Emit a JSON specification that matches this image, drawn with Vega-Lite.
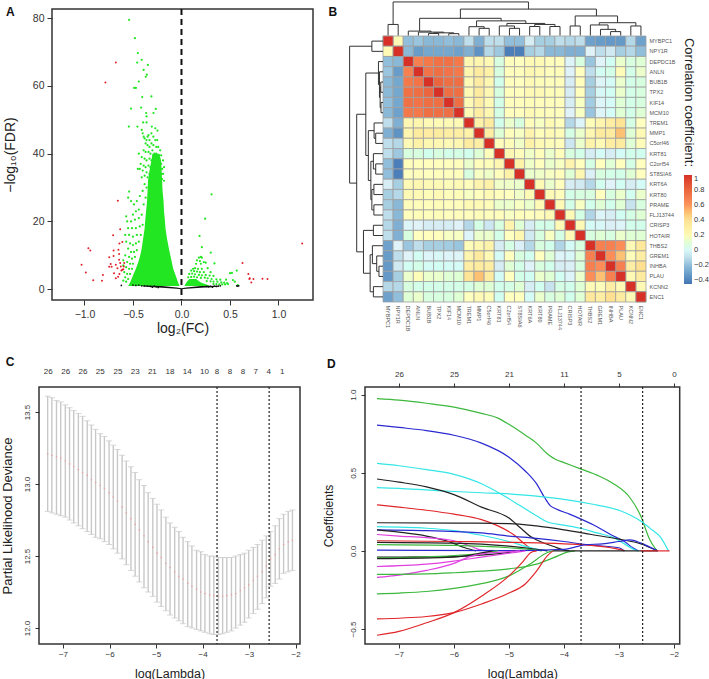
{"$schema":"https://vega.github.io/schema/vega-lite/v6.json","padding":{"left":0,"top":1,"right":0,"bottom":0},"background":"white",
"config":{"font":"Liberation Sans","view":{"stroke":null},"axis":{"labelFont":"Liberation Sans","titleFont":"Liberation Sans","labelColor":"#333","titleColor":"#222","tickColor":"#333","domain":false,"grid":false,"titleFontWeight":"normal"},"text":{"font":"Liberation Sans"}},
"datasets":{
"greenPts":[{"x":-0.54,"y":79.5},{"x":-0.48,"y":74.1},{"x":-0.45,"y":69.7},{"x":-0.457,"y":66.9},{"x":-0.41,"y":67.7},{"x":-0.347,"y":66.2},{"x":-0.39,"y":64.7},{"x":-0.357,"y":63.3},{"x":-0.368,"y":62.7},{"x":-0.44,"y":61.3},{"x":-0.47,"y":59.4},{"x":-0.488,"y":59.4},{"x":-0.405,"y":56.7},{"x":-0.31,"y":56.9},{"x":-0.52,"y":53.3},{"x":-0.416,"y":53.6},{"x":-0.265,"y":53.2},{"x":-0.364,"y":52},{"x":-0.289,"y":52},{"x":-0.36,"y":51},{"x":-0.543,"y":48},{"x":-0.454,"y":48},{"x":-0.306,"y":48},{"x":-0.395,"y":49.2},{"x":-0.36,"y":49.2},{"x":-0.41,"y":47},{"x":-0.27,"y":47.5},{"x":-0.247,"y":46.8},
{"x":-0.4,"y":46},{"x":-0.39,"y":45},{"x":-0.38,"y":44.5},{"x":-0.36,"y":44},{"x":-0.35,"y":45},{"x":-0.34,"y":45.5},{"x":-0.33,"y":44},{"x":-0.31,"y":46},{"x":-0.29,"y":45},{"x":-0.27,"y":44},{"x":-0.25,"y":44},{"x":-0.37,"y":43},{"x":-0.35,"y":42.5},{"x":-0.33,"y":42},{"x":-0.31,"y":43},{"x":-0.29,"y":42.5},{"x":-0.26,"y":42},{"x":-0.24,"y":42},{"x":-0.22,"y":41},{"x":-0.39,"y":41},{"x":-0.37,"y":40.5},{"x":-0.34,"y":40.5},{"x":-0.32,"y":40},{"x":-0.3,"y":41},{"x":-0.28,"y":40},{"x":-0.26,"y":40},{"x":-0.23,"y":39.5},{"x":-0.21,"y":39.5},{"x":-0.44,"y":40},{"x":-0.41,"y":39},{"x":-0.38,"y":38.5},{"x":-0.36,"y":38},{"x":-0.33,"y":38.5},{"x":-0.31,"y":38},{"x":-0.29,"y":38.5},{"x":-0.27,"y":38},{"x":-0.25,"y":38},{"x":-0.23,"y":37.5},{"x":-0.21,"y":37},{"x":-0.19,"y":38},{"x":-0.42,"y":37},{"x":-0.39,"y":36.5},{"x":-0.37,"y":36},{"x":-0.34,"y":36.5},{"x":-0.32,"y":36},{"x":-0.3,"y":36.5},{"x":-0.28,"y":36},{"x":-0.26,"y":36},{"x":-0.24,"y":36},{"x":-0.22,"y":35.5},{"x":-0.2,"y":35.5},{"x":-0.18,"y":36},{"x":-0.45,"y":35.5},{"x":-0.43,"y":35.5},{"x":-0.4,"y":35},{"x":-0.36,"y":34.5},{"x":-0.33,"y":34},{"x":-0.31,"y":34.5},{"x":-0.25,"y":34.5},{"x":-0.23,"y":34},{"x":-0.21,"y":34},{"x":-0.19,"y":34},{"x":-0.38,"y":33.5},{"x":-0.35,"y":33},{"x":-0.41,"y":33},{"x":-0.2,"y":32.5},{"x":-0.21,"y":31.5},{"x":-0.18,"y":32},
{"x":-0.54,"y":28.8},{"x":-0.55,"y":27},{"x":-0.52,"y":26},{"x":-0.49,"y":25},{"x":-0.46,"y":26},{"x":-0.43,"y":27.5},{"x":-0.4,"y":29},{"x":-0.38,"y":31},{"x":-0.36,"y":30},{"x":-0.44,"y":23.5},{"x":-0.47,"y":23},{"x":-0.5,"y":22},{"x":-0.57,"y":21.5},{"x":-0.56,"y":20},{"x":-0.52,"y":20},{"x":-0.48,"y":20.5},{"x":-0.44,"y":21},{"x":-0.41,"y":22},{"x":-0.39,"y":25},{"x":-0.37,"y":27},{"x":-0.55,"y":18},{"x":-0.51,"y":18},{"x":-0.47,"y":18},{"x":-0.43,"y":18.5},{"x":-0.4,"y":19},{"x":-0.58,"y":16},{"x":-0.54,"y":16},{"x":-0.5,"y":15.5},{"x":-0.46,"y":16},{"x":-0.42,"y":16},{"x":-0.57,"y":14},{"x":-0.53,"y":13.5},{"x":-0.5,"y":13},{"x":-0.47,"y":13.5},{"x":-0.44,"y":14},{"x":-0.55,"y":12},{"x":-0.52,"y":11},{"x":-0.49,"y":11},{"x":-0.46,"y":11.5},{"x":-0.58,"y":10},{"x":-0.54,"y":9.5},{"x":-0.51,"y":9},{"x":-0.48,"y":9.5},{"x":-0.6,"y":8.5},{"x":-0.56,"y":8},{"x":-0.53,"y":7.5},{"x":-0.5,"y":7.5},{"x":-0.6,"y":7},{"x":-0.57,"y":6.5},{"x":-0.54,"y":6},{"x":-0.51,"y":6},{"x":-0.59,"y":5},{"x":-0.56,"y":4.5},{"x":-0.53,"y":4.5},{"x":-0.58,"y":3.5},{"x":-0.55,"y":3},{"x":-0.57,"y":2.2},{"x":-0.6,"y":2.5},
{"x":0.31,"y":28},{"x":0.244,"y":20.8},{"x":0.186,"y":15.7},{"x":0.21,"y":12.4},{"x":0.302,"y":10.8},{"x":0.18,"y":9.3},{"x":0.2,"y":9.5},{"x":0.21,"y":9.3},{"x":0.16,"y":8.5},{"x":0.19,"y":8.3},{"x":0.23,"y":8},{"x":0.15,"y":7.5},{"x":0.2,"y":7.5},{"x":0.25,"y":7.8},{"x":0.34,"y":7.6},{"x":0.12,"y":6},{"x":0.14,"y":6.2},{"x":0.17,"y":6},{"x":0.21,"y":6},{"x":0.27,"y":6.2},{"x":0.1,"y":5.5},{"x":0.13,"y":5.3},{"x":0.16,"y":5.2},{"x":0.19,"y":5},{"x":0.23,"y":5},{"x":0.3,"y":5},{"x":0.57,"y":5.5},{"x":0.52,"y":4.8},{"x":0.5,"y":4.7},{"x":0.08,"y":4.5},{"x":0.11,"y":4.6},{"x":0.14,"y":4.4},{"x":0.18,"y":4.2},{"x":0.21,"y":4.1},{"x":0.25,"y":4.2},{"x":0.29,"y":4},{"x":0.33,"y":3.9},{"x":0.07,"y":3.5},{"x":0.1,"y":3.6},{"x":0.13,"y":3.7},{"x":0.16,"y":3.5},{"x":0.2,"y":3.3},{"x":0.24,"y":3.4},{"x":0.27,"y":3.2},{"x":0.31,"y":3},{"x":0.36,"y":2.9},{"x":0.4,"y":2.8},{"x":0.46,"y":2.8},{"x":0.53,"y":2.7},{"x":0.55,"y":2.2},{"x":0.26,"y":2.4},{"x":0.3,"y":2.3},{"x":0.33,"y":2.2},{"x":0.37,"y":2.2},{"x":0.41,"y":2},{"x":0.44,"y":1.9},{"x":0.47,"y":1.8},{"x":0.33,"y":1.5},{"x":0.36,"y":1.5},{"x":0.39,"y":1.4},{"x":0.42,"y":1.4},{"x":0.45,"y":1.4},{"x":0.48,"y":1.5},{"x":0.58,"y":1.2}],
"redPts":[{"x":-0.677,"y":66.9},{"x":-0.784,"y":61},{"x":-0.656,"y":26.1},{"x":-0.632,"y":17.7},{"x":-0.705,"y":15.9},{"x":-0.61,"y":13.9},{"x":-0.64,"y":13.5},{"x":-0.96,"y":12.1},{"x":-0.94,"y":11.4},{"x":-0.7,"y":11.4},{"x":-0.65,"y":11.6},{"x":-0.643,"y":10.4},{"x":-1.03,"y":7.2},{"x":-0.986,"y":4.9},{"x":-0.91,"y":2.6},{"x":-0.82,"y":2.5},{"x":-0.81,"y":4.2},{"x":-0.745,"y":9.4},{"x":-0.7,"y":9.8},{"x":-0.745,"y":6.6},{"x":-0.72,"y":6.6},{"x":-0.73,"y":7.4},{"x":-0.695,"y":4.7},{"x":-0.677,"y":7.2},{"x":-0.66,"y":6.2},{"x":-0.643,"y":8.7},{"x":-0.632,"y":7.7},{"x":-0.625,"y":6.7},{"x":-0.62,"y":5.5},{"x":-0.61,"y":5.7},{"x":-0.6,"y":5.9},{"x":-0.595,"y":6.7},{"x":-0.653,"y":3.7},{"x":-0.64,"y":4.5},{"x":-0.677,"y":3.2},{"x":-0.59,"y":7.7},{"x":1.244,"y":13.5},{"x":0.629,"y":7.7},{"x":0.69,"y":4.5},{"x":0.704,"y":3.2},{"x":0.72,"y":2},{"x":0.742,"y":3},{"x":0.7,"y":3},{"x":0.835,"y":3.1},{"x":0.887,"y":3}],
"blackPts":[{"x":-0.62,"y":1.1},{"x":-0.5,"y":1.2},{"x":-0.47,"y":1.1},{"x":-0.44,"y":1.2},{"x":-0.41,"y":1},{"x":-0.38,"y":1},{"x":-0.35,"y":0.9},{"x":-0.32,"y":0.8},{"x":-0.3,"y":0.6},{"x":-0.28,"y":0.9},{"x":-0.26,"y":0.7},{"x":-0.24,"y":0.5},{"x":0.26,"y":0.8},{"x":0.28,"y":0.7},{"x":0.3,"y":0.8},{"x":0.32,"y":0.6},{"x":0.34,"y":0.9},{"x":0.36,"y":0.8},{"x":0.38,"y":0.9},{"x":0.4,"y":1},{"x":0.59,"y":1},{"x":0.58,"y":0.9},{"x":0.57,"y":1}],
"segs":[{"a":0.5,"b":1.5,"h":-1.1,"k":-1.1},{"a":0.5,"b":0.5,"h":0,"k":-1.1},{"a":1.5,"b":1.5,"h":0,"k":-1.1},
{"a":6.5,"b":7.5,"h":-0.2,"k":-0.2},{"a":6.5,"b":6.5,"h":0,"k":-0.2},{"a":7.5,"b":7.5,"h":0,"k":-0.2},
{"a":4.5,"b":5.5,"h":-0.22,"k":-0.22},{"a":4.5,"b":4.5,"h":0,"k":-0.22},{"a":5.5,"b":5.5,"h":0,"k":-0.22},
{"a":5,"b":7,"h":-0.28,"k":-0.28},{"a":5,"b":5,"h":-0.22,"k":-0.28},{"a":7,"b":7,"h":-0.2,"k":-0.28},
{"a":3.5,"b":6,"h":-0.35,"k":-0.35},{"a":3.5,"b":3.5,"h":0,"k":-0.35},{"a":6,"b":6,"h":-0.28,"k":-0.35},
{"a":2.5,"b":4.75,"h":-0.45,"k":-0.45},{"a":2.5,"b":2.5,"h":0,"k":-0.45},{"a":4.75,"b":4.75,"h":-0.35,"k":-0.45},
{"a":9.5,"b":10.5,"h":-0.72,"k":-0.72},{"a":9.5,"b":9.5,"h":0,"k":-0.72},{"a":10.5,"b":10.5,"h":0,"k":-0.72},
{"a":8.5,"b":10,"h":-0.88,"k":-0.88},{"a":8.5,"b":8.5,"h":0,"k":-0.88},{"a":10,"b":10,"h":-0.72,"k":-0.88},
{"a":12.5,"b":13.5,"h":-0.72,"k":-0.72},{"a":12.5,"b":12.5,"h":0,"k":-0.72},{"a":13.5,"b":13.5,"h":0,"k":-0.72},
{"a":11.5,"b":13,"h":-0.95,"k":-0.95},{"a":11.5,"b":11.5,"h":0,"k":-0.95},{"a":13,"b":13,"h":-0.72,"k":-0.95},
{"a":14.5,"b":15.5,"h":-0.9,"k":-0.9},{"a":14.5,"b":14.5,"h":0,"k":-0.9},{"a":15.5,"b":15.5,"h":0,"k":-0.9},
{"a":16.5,"b":17.5,"h":-0.9,"k":-0.9},{"a":16.5,"b":16.5,"h":0,"k":-0.9},{"a":17.5,"b":17.5,"h":0,"k":-0.9},
{"a":15,"b":17,"h":-1.1,"k":-1.1},{"a":15,"b":15,"h":-0.9,"k":-1.1},{"a":17,"b":17,"h":-0.9,"k":-1.1},
{"a":12.25,"b":16,"h":-1.2,"k":-1.2},{"a":12.25,"b":12.25,"h":-0.95,"k":-1.2},{"a":16,"b":16,"h":-1.1,"k":-1.2},
{"a":9.25,"b":14.12,"h":-1.45,"k":-1.45},{"a":9.25,"b":9.25,"h":-0.88,"k":-1.45},{"a":14.12,"b":14.12,"h":-1.2,"k":-1.45},
{"a":3.62,"b":11.68,"h":-1.7,"k":-1.7},{"a":3.62,"b":3.62,"h":-0.45,"k":-1.7},{"a":11.68,"b":11.68,"h":-1.45,"k":-1.7},
{"a":18.5,"b":19.5,"h":-0.95,"k":-0.95},{"a":18.5,"b":18.5,"h":0,"k":-0.95},{"a":19.5,"b":19.5,"h":0,"k":-0.95},
{"a":22.5,"b":23.5,"h":-0.4,"k":-0.4},{"a":22.5,"b":22.5,"h":0,"k":-0.4},{"a":23.5,"b":23.5,"h":0,"k":-0.4},
{"a":21.5,"b":23,"h":-0.62,"k":-0.62},{"a":21.5,"b":21.5,"h":0,"k":-0.62},{"a":23,"b":23,"h":-0.4,"k":-0.62},
{"a":20.5,"b":22.25,"h":-1.05,"k":-1.05},{"a":20.5,"b":20.5,"h":0,"k":-1.05},{"a":22.25,"b":22.25,"h":-0.62,"k":-1.05},
{"a":24.5,"b":25.5,"h":-0.95,"k":-0.95},{"a":24.5,"b":24.5,"h":0,"k":-0.95},{"a":25.5,"b":25.5,"h":0,"k":-0.95},
{"a":21.38,"b":25,"h":-1.27,"k":-1.27},{"a":21.38,"b":21.38,"h":-1.05,"k":-1.27},{"a":25,"b":25,"h":-0.95,"k":-1.27},
{"a":19,"b":23.19,"h":-1.93,"k":-1.93},{"a":19,"b":19,"h":-0.95,"k":-1.93},{"a":23.19,"b":23.19,"h":-1.27,"k":-1.93},
{"a":7.65,"b":21.1,"h":-2.6,"k":-2.6},{"a":7.65,"b":7.65,"h":-1.7,"k":-2.6},{"a":21.1,"b":21.1,"h":-1.93,"k":-2.6},
{"a":1,"b":14.38,"h":-3.3,"k":-3.3},{"a":1,"b":1,"h":-1.1,"k":-3.3},{"a":14.38,"b":14.38,"h":-2.6,"k":-3.3}],
"cells":[{"r":0,"c":0,"v":1},{"r":0,"c":1,"v":0.2},{"r":0,"c":2,"v":-0.2},{"r":0,"c":3,"v":-0.18},{"r":0,"c":4,"v":-0.22},{"r":0,"c":5,"v":-0.22},{"r":0,"c":6,"v":-0.2},{"r":0,"c":7,"v":-0.22},{"r":0,"c":8,"v":-0.1},{"r":0,"c":9,"v":-0.25},{"r":0,"c":10,"v":-0.1},{"r":0,"c":11,"v":-0.1},{"r":0,"c":12,"v":-0.2},{"r":0,"c":13,"v":-0.2},{"r":0,"c":14,"v":-0.05},{"r":0,"c":15,"v":-0.15},{"r":0,"c":16,"v":-0.15},{"r":0,"c":17,"v":-0.1},{"r":0,"c":18,"v":-0.12},{"r":0,"c":19,"v":-0.1},{"r":0,"c":20,"v":-0.3},{"r":0,"c":21,"v":-0.32},{"r":0,"c":22,"v":-0.33},{"r":0,"c":23,"v":-0.33},{"r":0,"c":24,"v":-0.12},{"r":0,"c":25,"v":-0.3},
{"r":1,"c":1,"v":1},{"r":1,"c":2,"v":-0.22},{"r":1,"c":3,"v":-0.32},{"r":1,"c":4,"v":-0.28},{"r":1,"c":5,"v":-0.28},{"r":1,"c":6,"v":-0.28},{"r":1,"c":7,"v":-0.3},{"r":1,"c":8,"v":-0.25},{"r":1,"c":9,"v":-0.35},{"r":1,"c":10,"v":-0.12},{"r":1,"c":11,"v":-0.17},{"r":1,"c":12,"v":-0.42},{"r":1,"c":13,"v":-0.42},{"r":1,"c":14,"v":-0.15},{"r":1,"c":15,"v":-0.12},{"r":1,"c":16,"v":-0.22},{"r":1,"c":17,"v":-0.22},{"r":1,"c":18,"v":-0.25},{"r":1,"c":19,"v":-0.25},{"r":1,"c":20,"v":-0.03},{"r":1,"c":21,"v":-0.1},{"r":1,"c":22,"v":-0.06},{"r":1,"c":23,"v":-0.15},{"r":1,"c":24,"v":-0.12},{"r":1,"c":25,"v":-0.2},
{"r":2,"c":2,"v":1},{"r":2,"c":3,"v":0.68},{"r":2,"c":4,"v":0.72},{"r":2,"c":5,"v":0.75},{"r":2,"c":6,"v":0.75},{"r":2,"c":7,"v":0.72},{"r":2,"c":8,"v":0.22},{"r":2,"c":9,"v":0.24},{"r":2,"c":10,"v":0.2},{"r":2,"c":11,"v":0.08},{"r":2,"c":12,"v":0.17},{"r":2,"c":13,"v":0.15},{"r":2,"c":14,"v":0.2},{"r":2,"c":15,"v":0.2},{"r":2,"c":16,"v":0.17},{"r":2,"c":17,"v":0.16},{"r":2,"c":18,"v":-0.02},{"r":2,"c":19,"v":0.08},{"r":2,"c":20,"v":-0.18},{"r":2,"c":21,"v":-0.03},{"r":2,"c":22,"v":0.03},{"r":2,"c":23,"v":0.12},{"r":2,"c":24,"v":0.08},{"r":2,"c":25,"v":0.1},
{"r":3,"c":3,"v":1},{"r":3,"c":4,"v":0.74},{"r":3,"c":5,"v":0.76},{"r":3,"c":6,"v":0.74},{"r":3,"c":7,"v":0.72},{"r":3,"c":8,"v":0.24},{"r":3,"c":9,"v":0.33},{"r":3,"c":10,"v":0.28},{"r":3,"c":11,"v":0.08},{"r":3,"c":12,"v":0.16},{"r":3,"c":13,"v":0.17},{"r":3,"c":14,"v":0.22},{"r":3,"c":15,"v":0.2},{"r":3,"c":16,"v":0.17},{"r":3,"c":17,"v":0.18},{"r":3,"c":18,"v":-0.03},{"r":3,"c":19,"v":0.15},{"r":3,"c":20,"v":-0.1},{"r":3,"c":21,"v":0.03},{"r":3,"c":22,"v":0.06},{"r":3,"c":23,"v":0.18},{"r":3,"c":24,"v":0.06},{"r":3,"c":25,"v":0.12},
{"r":4,"c":4,"v":1},{"r":4,"c":5,"v":0.8},{"r":4,"c":6,"v":0.76},{"r":4,"c":7,"v":0.76},{"r":4,"c":8,"v":0.2},{"r":4,"c":9,"v":0.32},{"r":4,"c":10,"v":0.22},{"r":4,"c":11,"v":0.05},{"r":4,"c":12,"v":0.16},{"r":4,"c":13,"v":0.15},{"r":4,"c":14,"v":0.2},{"r":4,"c":15,"v":0.18},{"r":4,"c":16,"v":0.17},{"r":4,"c":17,"v":0.17},{"r":4,"c":18,"v":-0.05},{"r":4,"c":19,"v":0.16},{"r":4,"c":20,"v":-0.15},{"r":4,"c":21,"v":-0.02},{"r":4,"c":22,"v":0.02},{"r":4,"c":23,"v":0.12},{"r":4,"c":24,"v":0.06},{"r":4,"c":25,"v":0.08},
{"r":5,"c":5,"v":1},{"r":5,"c":6,"v":0.76},{"r":5,"c":7,"v":0.76},{"r":5,"c":8,"v":0.2},{"r":5,"c":9,"v":0.33},{"r":5,"c":10,"v":0.22},{"r":5,"c":11,"v":0.08},{"r":5,"c":12,"v":0.16},{"r":5,"c":13,"v":0.16},{"r":5,"c":14,"v":0.2},{"r":5,"c":15,"v":0.2},{"r":5,"c":16,"v":0.18},{"r":5,"c":17,"v":0.18},{"r":5,"c":18,"v":-0.05},{"r":5,"c":19,"v":0.16},{"r":5,"c":20,"v":-0.15},{"r":5,"c":21,"v":0},{"r":5,"c":22,"v":0.03},{"r":5,"c":23,"v":0.12},{"r":5,"c":24,"v":0.06},{"r":5,"c":25,"v":0.08},
{"r":6,"c":6,"v":1},{"r":6,"c":7,"v":0.76},{"r":6,"c":8,"v":0.2},{"r":6,"c":9,"v":0.3},{"r":6,"c":10,"v":0.2},{"r":6,"c":11,"v":0.06},{"r":6,"c":12,"v":0.16},{"r":6,"c":13,"v":0.16},{"r":6,"c":14,"v":0.18},{"r":6,"c":15,"v":0.17},{"r":6,"c":16,"v":0.17},{"r":6,"c":17,"v":0.16},{"r":6,"c":18,"v":-0.05},{"r":6,"c":19,"v":0.14},{"r":6,"c":20,"v":-0.16},{"r":6,"c":21,"v":-0.02},{"r":6,"c":22,"v":0.02},{"r":6,"c":23,"v":0.1},{"r":6,"c":24,"v":0.06},{"r":6,"c":25,"v":0.08},
{"r":7,"c":7,"v":1},{"r":7,"c":8,"v":0.2},{"r":7,"c":9,"v":0.3},{"r":7,"c":10,"v":0.22},{"r":7,"c":11,"v":0.07},{"r":7,"c":12,"v":0.16},{"r":7,"c":13,"v":0.16},{"r":7,"c":14,"v":0.2},{"r":7,"c":15,"v":0.18},{"r":7,"c":16,"v":0.17},{"r":7,"c":17,"v":0.17},{"r":7,"c":18,"v":-0.03},{"r":7,"c":19,"v":0.14},{"r":7,"c":20,"v":-0.18},{"r":7,"c":21,"v":-0.02},{"r":7,"c":22,"v":0.02},{"r":7,"c":23,"v":0.1},{"r":7,"c":24,"v":0.06},{"r":7,"c":25,"v":0.1},
{"r":8,"c":8,"v":1},{"r":8,"c":9,"v":0.27},{"r":8,"c":10,"v":0.33},{"r":8,"c":11,"v":0.05},{"r":8,"c":12,"v":0.12},{"r":8,"c":13,"v":0.08},{"r":8,"c":14,"v":0.17},{"r":8,"c":15,"v":0.14},{"r":8,"c":16,"v":0.2},{"r":8,"c":17,"v":0.16},{"r":8,"c":18,"v":-0.12},{"r":8,"c":19,"v":-0.02},{"r":8,"c":20,"v":0.18},{"r":8,"c":21,"v":0.24},{"r":8,"c":22,"v":0.3},{"r":8,"c":23,"v":0.38},{"r":8,"c":24,"v":0.07},{"r":8,"c":25,"v":0.15},
{"r":9,"c":9,"v":1},{"r":9,"c":10,"v":0.3},{"r":9,"c":11,"v":0.1},{"r":9,"c":12,"v":0.17},{"r":9,"c":13,"v":0.14},{"r":9,"c":14,"v":0.25},{"r":9,"c":15,"v":0.16},{"r":9,"c":16,"v":0.2},{"r":9,"c":17,"v":0.18},{"r":9,"c":18,"v":0.07},{"r":9,"c":19,"v":0.12},{"r":9,"c":20,"v":0.22},{"r":9,"c":21,"v":0.33},{"r":9,"c":22,"v":0.33},{"r":9,"c":23,"v":0.5},{"r":9,"c":24,"v":0.1},{"r":9,"c":25,"v":0.2},
{"r":10,"c":10,"v":1},{"r":10,"c":11,"v":0.17},{"r":10,"c":12,"v":0.18},{"r":10,"c":13,"v":0.13},{"r":10,"c":14,"v":0.27},{"r":10,"c":15,"v":0.2},{"r":10,"c":16,"v":0.18},{"r":10,"c":17,"v":0.16},{"r":10,"c":18,"v":-0.07},{"r":10,"c":19,"v":0.12},{"r":10,"c":20,"v":0.26},{"r":10,"c":21,"v":0.2},{"r":10,"c":22,"v":0.3},{"r":10,"c":23,"v":0.33},{"r":10,"c":24,"v":0.1},{"r":10,"c":25,"v":0.18},
{"r":11,"c":11,"v":1},{"r":11,"c":12,"v":0.22},{"r":11,"c":13,"v":0.17},{"r":11,"c":14,"v":0.13},{"r":11,"c":15,"v":0.17},{"r":11,"c":16,"v":0.12},{"r":11,"c":17,"v":0.16},{"r":11,"c":18,"v":0.08},{"r":11,"c":19,"v":0.06},{"r":11,"c":20,"v":-0.05},{"r":11,"c":21,"v":0.02},{"r":11,"c":22,"v":-0.05},{"r":11,"c":23,"v":0.02},{"r":11,"c":24,"v":0.05},{"r":11,"c":25,"v":0.04},
{"r":12,"c":12,"v":1},{"r":12,"c":13,"v":0.27},{"r":12,"c":14,"v":0.13},{"r":12,"c":15,"v":0.15},{"r":12,"c":16,"v":0.12},{"r":12,"c":17,"v":0.14},{"r":12,"c":18,"v":0.25},{"r":12,"c":19,"v":0.15},{"r":12,"c":20,"v":0.07},{"r":12,"c":21,"v":0.15},{"r":12,"c":22,"v":0.1},{"r":12,"c":23,"v":0.15},{"r":12,"c":24,"v":0.07},{"r":12,"c":25,"v":0.15},
{"r":13,"c":13,"v":1},{"r":13,"c":14,"v":0.12},{"r":13,"c":15,"v":0.13},{"r":13,"c":16,"v":0.14},{"r":13,"c":17,"v":0.16},{"r":13,"c":18,"v":0.1},{"r":13,"c":19,"v":0.22},{"r":13,"c":20,"v":-0.04},{"r":13,"c":21,"v":0.08},{"r":13,"c":22,"v":0.06},{"r":13,"c":23,"v":0.06},{"r":13,"c":24,"v":0.1},{"r":13,"c":25,"v":0.15},
{"r":14,"c":14,"v":1},{"r":14,"c":15,"v":0.2},{"r":14,"c":16,"v":0.12},{"r":14,"c":17,"v":0.15},{"r":14,"c":18,"v":-0.05},{"r":14,"c":19,"v":-0.06},{"r":14,"c":20,"v":-0.12},{"r":14,"c":21,"v":0.04},{"r":14,"c":22,"v":-0.03},{"r":14,"c":23,"v":0.03},{"r":14,"c":24,"v":-0.05},{"r":14,"c":25,"v":0.02},
{"r":15,"c":15,"v":1},{"r":15,"c":16,"v":0.2},{"r":15,"c":17,"v":0.17},{"r":15,"c":18,"v":0.06},{"r":15,"c":19,"v":0.08},{"r":15,"c":20,"v":0.08},{"r":15,"c":21,"v":0.15},{"r":15,"c":22,"v":0.08},{"r":15,"c":23,"v":0.12},{"r":15,"c":24,"v":0.04},{"r":15,"c":25,"v":0.12},
{"r":16,"c":16,"v":1},{"r":16,"c":17,"v":0.2},{"r":16,"c":18,"v":0.06},{"r":16,"c":19,"v":0.14},{"r":16,"c":20,"v":0.05},{"r":16,"c":21,"v":0.1},{"r":16,"c":22,"v":0.05},{"r":16,"c":23,"v":0.1},{"r":16,"c":24,"v":-0.08},{"r":16,"c":25,"v":0.08},
{"r":17,"c":17,"v":1},{"r":17,"c":18,"v":0.2},{"r":17,"c":19,"v":0.07},{"r":17,"c":20,"v":-0.13},{"r":17,"c":21,"v":-0.02},{"r":17,"c":22,"v":-0.05},{"r":17,"c":23,"v":0.03},{"r":17,"c":24,"v":0.07},{"r":17,"c":25,"v":0.1},
{"r":18,"c":18,"v":1},{"r":18,"c":19,"v":0.2},{"r":18,"c":20,"v":0.02},{"r":18,"c":21,"v":0},{"r":18,"c":22,"v":-0.04},{"r":18,"c":23,"v":-0.02},{"r":18,"c":24,"v":0.05},{"r":18,"c":25,"v":0.05},
{"r":19,"c":19,"v":1},{"r":19,"c":20,"v":0.08},{"r":19,"c":21,"v":0.1},{"r":19,"c":22,"v":0.08},{"r":19,"c":23,"v":0.12},{"r":19,"c":24,"v":0.1},{"r":19,"c":25,"v":0.1},
{"r":20,"c":20,"v":1},{"r":20,"c":21,"v":0.68},{"r":20,"c":22,"v":0.68},{"r":20,"c":23,"v":0.62},{"r":20,"c":24,"v":0.2},{"r":20,"c":25,"v":0.35},
{"r":21,"c":21,"v":1},{"r":21,"c":22,"v":0.62},{"r":21,"c":23,"v":0.5},{"r":21,"c":24,"v":0.18},{"r":21,"c":25,"v":0.3},
{"r":22,"c":22,"v":1},{"r":22,"c":23,"v":0.68},{"r":22,"c":24,"v":0.3},{"r":22,"c":25,"v":0.42},
{"r":23,"c":23,"v":1},{"r":23,"c":24,"v":0.2},{"r":23,"c":25,"v":0.33},
{"r":24,"c":24,"v":1},{"r":24,"c":25,"v":0.2},
{"r":25,"c":25,"v":1}],
"cv":[{"x":-7.33,"u":13.61,"l":12.81,"m":13.21},{"x":-7.24,"u":13.6,"l":12.8,"m":13.2},{"x":-7.14,"u":13.58,"l":12.79,"m":13.19},{"x":-7.05,"u":13.57,"l":12.78,"m":13.18},{"x":-6.95,"u":13.55,"l":12.77,"m":13.16},{"x":-6.86,"u":13.53,"l":12.75,"m":13.14},{"x":-6.77,"u":13.51,"l":12.73,"m":13.12},{"x":-6.67,"u":13.49,"l":12.71,"m":13.1},{"x":-6.58,"u":13.47,"l":12.69,"m":13.08},{"x":-6.48,"u":13.44,"l":12.67,"m":13.06},{"x":-6.39,"u":13.41,"l":12.65,"m":13.03},{"x":-6.3,"u":13.38,"l":12.63,"m":13.01},{"x":-6.2,"u":13.35,"l":12.62,"m":12.99},{"x":-6.11,"u":13.33,"l":12.6,"m":12.97},{"x":-6.01,"u":13.3,"l":12.58,"m":12.94},{"x":-5.92,"u":13.27,"l":12.55,"m":12.91},{"x":-5.83,"u":13.24,"l":12.52,"m":12.88},{"x":-5.73,"u":13.2,"l":12.48,"m":12.84},{"x":-5.64,"u":13.16,"l":12.44,"m":12.8},{"x":-5.54,"u":13.12,"l":12.4,"m":12.76},{"x":-5.45,"u":13.08,"l":12.36,"m":12.72},{"x":-5.36,"u":13.03,"l":12.32,"m":12.68},{"x":-5.26,"u":12.99,"l":12.28,"m":12.64},{"x":-5.17,"u":12.94,"l":12.25,"m":12.6},{"x":-5.07,"u":12.9,"l":12.22,"m":12.56},{"x":-4.98,"u":12.86,"l":12.18,"m":12.52},{"x":-4.89,"u":12.82,"l":12.15,"m":12.49},{"x":-4.79,"u":12.77,"l":12.12,"m":12.45},{"x":-4.7,"u":12.73,"l":12.09,"m":12.42},{"x":-4.6,"u":12.7,"l":12.07,"m":12.39},{"x":-4.51,"u":12.67,"l":12.05,"m":12.36},{"x":-4.42,"u":12.63,"l":12.03,"m":12.34},{"x":-4.32,"u":12.6,"l":12.01,"m":12.31},{"x":-4.23,"u":12.57,"l":12,"m":12.29},{"x":-4.13,"u":12.54,"l":11.99,"m":12.27},{"x":-4.04,"u":12.53,"l":11.98,"m":12.25},{"x":-3.95,"u":12.51,"l":11.97,"m":12.24},{"x":-3.85,"u":12.5,"l":11.96,"m":12.23},{"x":-3.76,"u":12.5,"l":11.955,"m":12.225},{"x":-3.66,"u":12.49,"l":11.955,"m":12.22},{"x":-3.57,"u":12.49,"l":11.96,"m":12.22},{"x":-3.48,"u":12.49,"l":11.97,"m":12.225},{"x":-3.38,"u":12.49,"l":11.98,"m":12.23},{"x":-3.29,"u":12.5,"l":12,"m":12.24},{"x":-3.19,"u":12.51,"l":12.02,"m":12.26},{"x":-3.1,"u":12.52,"l":12.04,"m":12.28},{"x":-3.01,"u":12.54,"l":12.07,"m":12.3},{"x":-2.91,"u":12.56,"l":12.1,"m":12.33},{"x":-2.82,"u":12.58,"l":12.13,"m":12.36},{"x":-2.72,"u":12.61,"l":12.17,"m":12.39},{"x":-2.63,"u":12.64,"l":12.21,"m":12.43},{"x":-2.54,"u":12.67,"l":12.29,"m":12.48},{"x":-2.44,"u":12.71,"l":12.31,"m":12.51},{"x":-2.35,"u":12.76,"l":12.34,"m":12.55},{"x":-2.26,"u":12.79,"l":12.38,"m":12.58},{"x":-2.16,"u":12.81,"l":12.39,"m":12.6},{"x":-2.07,"u":12.82,"l":12.4,"m":12.61}],
"paths":[
{"s":1,"c":"g","x":-7.4,"y":0.975},{"s":1,"c":"g","x":-7,"y":0.965},{"s":1,"c":"g","x":-6.5,"y":0.945},{"s":1,"c":"g","x":-6,"y":0.92},{"s":1,"c":"g","x":-5.5,"y":0.88},{"s":1,"c":"g","x":-5.2,"y":0.85},{"s":1,"c":"g","x":-5,"y":0.81},{"s":1,"c":"g","x":-4.7,"y":0.74},{"s":1,"c":"g","x":-4.5,"y":0.69},{"s":1,"c":"g","x":-4.3,"y":0.62},{"s":1,"c":"g","x":-4.15,"y":0.585},{"s":1,"c":"g","x":-4,"y":0.565},{"s":1,"c":"g","x":-3.7,"y":0.525},{"s":1,"c":"g","x":-3.4,"y":0.485},{"s":1,"c":"g","x":-3.1,"y":0.43},{"s":1,"c":"g","x":-2.8,"y":0.34},{"s":1,"c":"g","x":-2.6,"y":0.22},{"s":1,"c":"g","x":-2.45,"y":0.08},{"s":1,"c":"g","x":-2.35,"y":0.02},{"s":1,"c":"g","x":-2.3,"y":0},
{"s":2,"c":"b","x":-7.4,"y":0.805},{"s":2,"c":"b","x":-7,"y":0.79},{"s":2,"c":"b","x":-6.5,"y":0.77},{"s":2,"c":"b","x":-6,"y":0.74},{"s":2,"c":"b","x":-5.5,"y":0.69},{"s":2,"c":"b","x":-5,"y":0.6},{"s":2,"c":"b","x":-4.7,"y":0.51},{"s":2,"c":"b","x":-4.5,"y":0.43},{"s":2,"c":"b","x":-4.35,"y":0.34},{"s":2,"c":"b","x":-4.25,"y":0.29},{"s":2,"c":"b","x":-4.15,"y":0.27},{"s":2,"c":"b","x":-3.9,"y":0.235},{"s":2,"c":"b","x":-3.7,"y":0.205},{"s":2,"c":"b","x":-3.4,"y":0.155},{"s":2,"c":"b","x":-3.1,"y":0.095},{"s":2,"c":"b","x":-2.9,"y":0.06},{"s":2,"c":"b","x":-2.75,"y":0.02},{"s":2,"c":"b","x":-2.65,"y":0},
{"s":3,"c":"c","x":-7.4,"y":0.56},{"s":3,"c":"c","x":-7,"y":0.545},{"s":3,"c":"c","x":-6.5,"y":0.52},{"s":3,"c":"c","x":-6,"y":0.49},{"s":3,"c":"c","x":-5.5,"y":0.43},{"s":3,"c":"c","x":-5.1,"y":0.355},{"s":3,"c":"c","x":-4.8,"y":0.29},{"s":3,"c":"c","x":-4.5,"y":0.225},{"s":3,"c":"c","x":-4.3,"y":0.185},{"s":3,"c":"c","x":-4,"y":0.165},{"s":3,"c":"c","x":-3.7,"y":0.145},{"s":3,"c":"c","x":-3.4,"y":0.115},{"s":3,"c":"c","x":-3.1,"y":0.085},{"s":3,"c":"c","x":-2.9,"y":0.045},{"s":3,"c":"c","x":-2.7,"y":0.005},{"s":3,"c":"c","x":-2.65,"y":0},
{"s":4,"c":"c","x":-7.4,"y":0.405},{"s":4,"c":"c","x":-7,"y":0.4},{"s":4,"c":"c","x":-6.5,"y":0.39},{"s":4,"c":"c","x":-6,"y":0.38},{"s":4,"c":"c","x":-5.5,"y":0.372},{"s":4,"c":"c","x":-5,"y":0.365},{"s":4,"c":"c","x":-4.5,"y":0.35},{"s":4,"c":"c","x":-4,"y":0.33},{"s":4,"c":"c","x":-3.5,"y":0.3},{"s":4,"c":"c","x":-3,"y":0.26},{"s":4,"c":"c","x":-2.8,"y":0.23},{"s":4,"c":"c","x":-2.6,"y":0.19},{"s":4,"c":"c","x":-2.4,"y":0.135},{"s":4,"c":"c","x":-2.25,"y":0.09},{"s":4,"c":"c","x":-2.1,"y":0},
{"s":5,"c":"k","x":-7.4,"y":0.46},{"s":5,"c":"k","x":-7,"y":0.44},{"s":5,"c":"k","x":-6.5,"y":0.41},{"s":5,"c":"k","x":-6,"y":0.36},{"s":5,"c":"k","x":-5.5,"y":0.28},{"s":5,"c":"k","x":-5,"y":0.21},{"s":5,"c":"k","x":-4.8,"y":0.15},{"s":5,"c":"k","x":-4.6,"y":0.09},{"s":5,"c":"k","x":-4.4,"y":0.055},{"s":5,"c":"k","x":-4.2,"y":0.03},{"s":5,"c":"k","x":-4,"y":0.005},{"s":5,"c":"k","x":-3.9,"y":0},
{"s":6,"c":"r","x":-7.4,"y":0.295},{"s":6,"c":"r","x":-7,"y":0.28},{"s":6,"c":"r","x":-6.5,"y":0.26},{"s":6,"c":"r","x":-6,"y":0.235},{"s":6,"c":"r","x":-5.5,"y":0.2},{"s":6,"c":"r","x":-5.2,"y":0.16},{"s":6,"c":"r","x":-4.9,"y":0.1},{"s":6,"c":"r","x":-4.7,"y":0.04},{"s":6,"c":"r","x":-4.55,"y":0.005},{"s":6,"c":"r","x":-4.5,"y":0},
{"s":7,"c":"k","x":-7.4,"y":0.18},{"s":7,"c":"k","x":-6,"y":0.178},{"s":7,"c":"k","x":-5,"y":0.175},{"s":7,"c":"k","x":-4.5,"y":0.16},{"s":7,"c":"k","x":-4,"y":0.135},{"s":7,"c":"k","x":-3.5,"y":0.105},{"s":7,"c":"k","x":-3,"y":0.075},{"s":7,"c":"k","x":-2.6,"y":0.045},{"s":7,"c":"k","x":-2.3,"y":0},
{"s":8,"c":"c","x":-7.4,"y":0.155},{"s":8,"c":"c","x":-6.5,"y":0.145},{"s":8,"c":"c","x":-6,"y":0.13},{"s":8,"c":"c","x":-5.5,"y":0.1},{"s":8,"c":"c","x":-5,"y":0.06},{"s":8,"c":"c","x":-4.6,"y":0.02},{"s":8,"c":"c","x":-4.3,"y":0},
{"s":9,"c":"b","x":-7.4,"y":0.135},{"s":9,"c":"b","x":-6.5,"y":0.13},{"s":9,"c":"b","x":-5.5,"y":0.115},{"s":9,"c":"b","x":-5,"y":0.095},{"s":9,"c":"b","x":-4.5,"y":0.08},{"s":9,"c":"b","x":-4,"y":0.06},{"s":9,"c":"b","x":-3.6,"y":0.04},{"s":9,"c":"b","x":-3,"y":0.02},{"s":9,"c":"b","x":-2.9,"y":0},
{"s":10,"c":"k","x":-7.4,"y":0.135},{"s":10,"c":"k","x":-7,"y":0.12},{"s":10,"c":"k","x":-6.5,"y":0.095},{"s":10,"c":"k","x":-6.1,"y":0.06},{"s":10,"c":"k","x":-5.8,"y":0.02},{"s":10,"c":"k","x":-5.6,"y":0},
{"s":11,"c":"m","x":-7.4,"y":0.105},{"s":11,"c":"m","x":-7,"y":0.095},{"s":11,"c":"m","x":-6.5,"y":0.085},{"s":11,"c":"m","x":-6,"y":0.065},{"s":11,"c":"m","x":-5.7,"y":0.03},{"s":11,"c":"m","x":-5.5,"y":0.005},{"s":11,"c":"m","x":-5.3,"y":0},
{"s":12,"c":"r","x":-7.4,"y":0.065},{"s":12,"c":"r","x":-6,"y":0.06},{"s":12,"c":"r","x":-5,"y":0.055},{"s":12,"c":"r","x":-4,"y":0.045},{"s":12,"c":"r","x":-3.5,"y":0.035},{"s":12,"c":"r","x":-3,"y":0.01},{"s":12,"c":"r","x":-2.9,"y":0},
{"s":13,"c":"k","x":-7.4,"y":0.055},{"s":13,"c":"k","x":-6,"y":0.05},{"s":13,"c":"k","x":-5,"y":0.03},{"s":13,"c":"k","x":-4.5,"y":0.01},{"s":13,"c":"k","x":-4.3,"y":0},
{"s":14,"c":"g","x":-7.4,"y":0.04},{"s":14,"c":"g","x":-6,"y":0.035},{"s":14,"c":"g","x":-5,"y":0.02},{"s":14,"c":"g","x":-4.5,"y":0.005},{"s":14,"c":"g","x":-4.4,"y":0},
{"s":15,"c":"b","x":-7.4,"y":0.005},{"s":15,"c":"b","x":-5,"y":0.002},{"s":15,"c":"b","x":-4,"y":0.01},{"s":15,"c":"b","x":-3.6,"y":0.04},{"s":15,"c":"b","x":-3.3,"y":0.045},{"s":15,"c":"b","x":-3,"y":0.06},{"s":15,"c":"b","x":-2.8,"y":0.07},{"s":15,"c":"b","x":-2.6,"y":0.05},{"s":15,"c":"b","x":-2.3,"y":0},
{"s":16,"c":"k","x":-7.4,"y":-0.04},{"s":16,"c":"k","x":-6,"y":-0.035},{"s":16,"c":"k","x":-5,"y":-0.01},{"s":16,"c":"k","x":-4.9,"y":0},
{"s":17,"c":"g","x":-7.4,"y":-0.045},{"s":17,"c":"g","x":-6,"y":-0.03},{"s":17,"c":"g","x":-5.5,"y":-0.015},{"s":17,"c":"g","x":-5.2,"y":0},
{"s":18,"c":"k","x":-7.4,"y":-0.05},{"s":18,"c":"k","x":-6,"y":-0.04},{"s":18,"c":"k","x":-5.6,"y":-0.02},{"s":18,"c":"k","x":-5.3,"y":0},
{"s":19,"c":"m","x":-7.4,"y":-0.1},{"s":19,"c":"m","x":-6.5,"y":-0.085},{"s":19,"c":"m","x":-6,"y":-0.065},{"s":19,"c":"m","x":-5.5,"y":-0.04},{"s":19,"c":"m","x":-5,"y":-0.015},{"s":19,"c":"m","x":-4.7,"y":0},
{"s":20,"c":"m","x":-7.4,"y":-0.17},{"s":20,"c":"m","x":-7,"y":-0.155},{"s":20,"c":"m","x":-6.5,"y":-0.125},{"s":20,"c":"m","x":-6,"y":-0.08},{"s":20,"c":"m","x":-5.7,"y":-0.035},{"s":20,"c":"m","x":-5.4,"y":-0.015},{"s":20,"c":"m","x":-5,"y":-0.005},{"s":20,"c":"m","x":-4.8,"y":0},
{"s":21,"c":"g","x":-7.4,"y":-0.15},{"s":21,"c":"g","x":-6.5,"y":-0.147},{"s":21,"c":"g","x":-6,"y":-0.14},{"s":21,"c":"g","x":-5.5,"y":-0.13},{"s":21,"c":"g","x":-5,"y":-0.115},{"s":21,"c":"g","x":-4.5,"y":-0.085},{"s":21,"c":"g","x":-4.2,"y":-0.045},{"s":21,"c":"g","x":-3.9,"y":-0.005},{"s":21,"c":"g","x":-3.8,"y":0},
{"s":22,"c":"g","x":-7.4,"y":-0.275},{"s":22,"c":"g","x":-7,"y":-0.27},{"s":22,"c":"g","x":-6.5,"y":-0.26},{"s":22,"c":"g","x":-6,"y":-0.24},{"s":22,"c":"g","x":-5.5,"y":-0.21},{"s":22,"c":"g","x":-5,"y":-0.16},{"s":22,"c":"g","x":-4.6,"y":-0.08},{"s":22,"c":"g","x":-4.3,"y":-0.01},{"s":22,"c":"g","x":-4.2,"y":0},
{"s":23,"c":"r","x":-7.4,"y":-0.435},{"s":23,"c":"r","x":-6.5,"y":-0.42},{"s":23,"c":"r","x":-6,"y":-0.395},{"s":23,"c":"r","x":-5.5,"y":-0.34},{"s":23,"c":"r","x":-5,"y":-0.27},{"s":23,"c":"r","x":-4.7,"y":-0.21},{"s":23,"c":"r","x":-4.5,"y":-0.13},{"s":23,"c":"r","x":-4.3,"y":-0.03},{"s":23,"c":"r","x":-4.2,"y":0},
{"s":24,"c":"r","x":-7.4,"y":-0.54},{"s":24,"c":"r","x":-7,"y":-0.515},{"s":24,"c":"r","x":-6.5,"y":-0.46},{"s":24,"c":"r","x":-6,"y":-0.395},{"s":24,"c":"r","x":-5.5,"y":-0.29},{"s":24,"c":"r","x":-5,"y":-0.16},{"s":24,"c":"r","x":-4.75,"y":-0.07},{"s":24,"c":"r","x":-4.6,"y":-0.01},{"s":24,"c":"r","x":-4.5,"y":0},
{"s":25,"c":"k","x":-4.2,"y":0},{"s":25,"c":"k","x":-2.3,"y":0},
{"s":26,"c":"r","x":-2.6,"y":0},{"s":26,"c":"r","x":-2.08,"y":0}]
},
"vconcat":[
{"hconcat":[
{"width":12.7,"height":1,"data":{"values":[]},"mark":"point","encoding":{}},
{"hconcat":[
{"width":261,"height":291,"view":{"stroke":"#333","strokeWidth":1.5},"layer":[
{"data":{"name":"greenPts"},"mark":{"type":"circle","size":5,"color":"#22e622","opacity":1},"encoding":{"x":{"field":"x","type":"quantitative","scale":{"domain":[-1.335,1.356],"nice":false,"zero":false},"axis":{"values":[-1,-0.5,0,0.5,1],"format":".1f","title":"log₂(FC)","titleFontSize":14,"labelFontSize":10.5,"tickSize":5,"labelPadding":4,"titlePadding":2}},"y":{"field":"y","type":"quantitative","scale":{"domain":[-3.2,82.7],"nice":false,"zero":false},"axis":{"values":[0,20,40,60,80],"title":"−log₁₀(FDR)","titleFontSize":14,"labelFontSize":10.5,"tickSize":5,"labelPadding":3,"titlePadding":15}}}},
{"data":{"values":[{"y":0.9,"a":-0.55,"b":-0.02},{"y":2,"a":-0.53,"b":-0.035},{"y":4,"a":-0.5,"b":-0.06},{"y":6,"a":-0.47,"b":-0.085},{"y":8,"a":-0.445,"b":-0.1},{"y":10,"a":-0.425,"b":-0.115},{"y":12,"a":-0.41,"b":-0.13},{"y":15,"a":-0.395,"b":-0.15},{"y":18,"a":-0.38,"b":-0.165},{"y":20,"a":-0.375,"b":-0.17},{"y":23,"a":-0.365,"b":-0.18},{"y":26,"a":-0.355,"b":-0.185},{"y":29,"a":-0.35,"b":-0.195},{"y":32,"a":-0.345,"b":-0.2},{"y":35,"a":-0.33,"b":-0.205},{"y":38,"a":-0.31,"b":-0.21},{"y":40,"a":-0.3,"b":-0.23}]},"mark":{"type":"area","orient":"horizontal","color":"#22e622"},"encoding":{"x":{"field":"a","type":"quantitative","stack":null},"x2":{"field":"b"},"y":{"field":"y","type":"quantitative"}}},
{"data":{"values":[{"y":0.9,"a":0.03,"b":0.3},{"y":2,"a":0.05,"b":0.2},{"y":3,"a":0.08,"b":0.15}]},"mark":{"type":"area","orient":"horizontal","color":"#22e622"},"encoding":{"x":{"field":"a","type":"quantitative","stack":null},"x2":{"field":"b"},"y":{"field":"y","type":"quantitative"}}},
{"data":{"values":[{"x":-0.4,"y":0.8,"h":1.1},{"x":-0.2,"y":0.4,"h":0.9},{"x":-0.05,"y":0.1,"h":0.5},{"x":0,"y":0,"h":0.3},{"x":0.05,"y":0.1,"h":0.5},{"x":0.2,"y":0.4,"h":0.9},{"x":0.38,"y":0.7,"h":1}]},"mark":{"type":"area","color":"#111"},"encoding":{"x":{"field":"x","type":"quantitative"},"y":{"field":"y","type":"quantitative","stack":null},"y2":{"field":"h"}}},
{"data":{"name":"blackPts"},"mark":{"type":"circle","size":3,"color":"#111","opacity":1},"encoding":{"x":{"field":"x","type":"quantitative"},"y":{"field":"y","type":"quantitative"}}},
{"data":{"name":"redPts"},"mark":{"type":"circle","size":4,"color":"#e0202a","opacity":1},"encoding":{"x":{"field":"x","type":"quantitative"},"y":{"field":"y","type":"quantitative"}}},
{"data":{"values":[{"x":0}]},"mark":{"type":"rule","color":"#111","strokeWidth":2,"strokeDash":[6,4]},"encoding":{"x":{"field":"x","type":"quantitative"}}},
{"data":{"values":[{"x":-1.81,"y":81.9,"t":"A"}]},"mark":{"type":"text","fontWeight":"bold","fontSize":12,"align":"left","color":"#111"},"encoding":{"x":{"field":"x","type":"quantitative"},"y":{"field":"y","type":"quantitative"},"text":{"field":"t"}}}
]},
{"vconcat":[
{"width":263,"height":26.7,"data":{"name":"segs"},"mark":{"type":"rule","color":"#333","strokeWidth":1},"encoding":{"x":{"field":"a","type":"quantitative","scale":{"domain":[0,26],"nice":false,"zero":false},"axis":null},"x2":{"field":"b"},"y":{"field":"h","type":"quantitative","scale":{"domain":[-2.61,0],"reverse":true,"nice":false,"zero":false},"axis":null},"y2":{"field":"k"}}},
{"width":263,"height":266,"resolve":{"scale":{"x":"independent","y":"independent"}},"layer":[
{"data":{"name":"cells"},"mark":{"type":"rect","stroke":"#a0a0a0","strokeWidth":0.8},"encoding":{"x":{"field":"c","type":"ordinal","scale":{"type":"band","domain":[0,1,2,3,4,5,6,7,8,9,10,11,12,13,14,15,16,17,18,19,20,21,22,23,24,25],"paddingInner":0,"paddingOuter":0},"axis":{"orient":"bottom","title":null,"ticks":false,"labelAngle":90,"labelFontSize":5.5,"labelColor":"#555","labelPadding":3,"labelExpr":"['MYBPC1','NPY1R','DEPDC1B','ANLN','BUB1B','TPX2','KIF14','MCM10','TREM1','MMP1','C5orf46','KRT81','C2orf54','ST8SIA6','KRT6A','KRT80','PRAME','FLJ13744','CRISP3','HOTAIR','THBS2','GREM1','INHBA','PLAU','KCNN2','ENC1'][datum.value]"}},"y":{"field":"r","type":"ordinal","scale":{"type":"band","domain":[0,1,2,3,4,5,6,7,8,9,10,11,12,13,14,15,16,17,18,19,20,21,22,23,24,25],"paddingInner":0,"paddingOuter":0},"axis":{"orient":"right","title":null,"ticks":false,"labelFontSize":5.5,"labelColor":"#555","labelPadding":3,"labelExpr":"['MYBPC1','NPY1R','DEPDC1B','ANLN','BUB1B','TPX2','KIF14','MCM10','TREM1','MMP1','C5orf46','KRT81','C2orf54','ST8SIA6','KRT6A','KRT80','PRAME','FLJ13744','CRISP3','HOTAIR','THBS2','GREM1','INHBA','PLAU','KCNN2','ENC1'][datum.value]"}},"color":{"field":"v","type":"quantitative","scale":{"domain":[-0.45,-0.2,-0.03,0.15,0.42,0.62,1],"range":["#4575b4","#91bfdb","#e0f3f8","#ffffbf","#fee090","#fc8d59","#d73027"]},"legend":{"orient":"none","direction":"vertical","legendX":645,"legendY":166,"gradientLength":109,"gradientThickness":8,"title":null,"values":[-0.4,-0.2,0,0.2,0.4,0.6,0.8,1],"format":"~g","labelFontSize":7.5,"labelOffset":2,"labelColor":"#333","gradientStrokeWidth":0}}}},
{"data":{"name":"cells"},"mark":{"type":"rect","stroke":"#a0a0a0","strokeWidth":0.8},"encoding":{"x":{"field":"r","type":"ordinal","scale":{"type":"band","domain":[0,1,2,3,4,5,6,7,8,9,10,11,12,13,14,15,16,17,18,19,20,21,22,23,24,25],"paddingInner":0,"paddingOuter":0},"axis":null},"y":{"field":"c","type":"ordinal","scale":{"type":"band","domain":[0,1,2,3,4,5,6,7,8,9,10,11,12,13,14,15,16,17,18,19,20,21,22,23,24,25],"paddingInner":0,"paddingOuter":0},"axis":null},"color":{"field":"v","type":"quantitative"}}},
{"data":{"name":"segs"},"mark":{"type":"rule","color":"#333","strokeWidth":1},"encoding":{"y":{"field":"a","type":"quantitative","scale":{"domain":[0,26],"reverse":true,"nice":false,"zero":false},"axis":null},"y2":{"field":"b"},"x":{"field":"h","type":"quantitative","scale":{"domain":[0,26],"nice":false,"zero":false},"axis":null},"x2":{"field":"k"}}},
{"data":{"values":[{"x":30.3,"y":6.5,"t":"Correlation coefficient:"}]},"mark":{"type":"text","fontSize":13,"angle":90,"color":"#222"},"encoding":{"x":{"field":"x","type":"quantitative","scale":{"domain":[0,26],"nice":false,"zero":false},"axis":null},"y":{"field":"y","type":"quantitative","scale":{"domain":[0,26],"reverse":true,"nice":false,"zero":false},"axis":null},"text":{"field":"t"}}},
{"data":{"values":[{"x":-5.4,"y":-2.3,"t":"B"}]},"mark":{"type":"text","fontWeight":"bold","fontSize":12,"align":"left","color":"#111"},"encoding":{"x":{"field":"x","type":"quantitative","scale":{"domain":[0,26],"nice":false,"zero":false},"axis":null},"y":{"field":"y","type":"quantitative","scale":{"domain":[0,26],"reverse":true,"nice":false,"zero":false},"axis":null},"text":{"field":"t"}}}
]}
],"spacing":0,"bounds":"flush"}
],"spacing":70,"bounds":"flush"}
],"spacing":0,"bounds":"flush"},
{"hconcat":[
{"width":261,"height":257,"view":{"stroke":"#333","strokeWidth":1.5},"layer":[
{"data":{"name":"cv"},"mark":{"type":"rule","color":"#c8c8c8","strokeWidth":1.4},"encoding":{"x":{"field":"x","type":"quantitative","scale":{"domain":[-7.516,-1.907],"nice":false,"zero":false},"axis":{"values":[-7,-6,-5,-4,-3,-2],"format":"d","title":"log(Lambda)","titleFontSize":12.5,"labelFontSize":8,"tickSize":4,"labelPadding":2,"titlePadding":9}},"y":{"field":"l","type":"quantitative","scale":{"domain":[11.889,13.674],"nice":false,"zero":false},"axis":{"values":[12,12.5,13,13.5],"format":".1f","title":"Partial Likelihood Deviance","titleFontSize":13,"labelFontSize":8,"labelAngle":-90,"labelAlign":"center","labelBaseline":"bottom","tickSize":4,"labelPadding":4,"titlePadding":9}},"y2":{"field":"u"}}},
{"data":{"name":"cv"},"mark":{"type":"tick","orient":"horizontal","size":6,"thickness":1,"color":"#c8c8c8"},"encoding":{"x":{"field":"x","type":"quantitative"},"y":{"field":"u","type":"quantitative"}}},
{"data":{"name":"cv"},"mark":{"type":"tick","orient":"horizontal","size":6,"thickness":1,"color":"#c8c8c8"},"encoding":{"x":{"field":"x","type":"quantitative"},"y":{"field":"l","type":"quantitative"}}},
{"data":{"name":"cv"},"mark":{"type":"circle","size":2.5,"color":"#e8a0a0","opacity":1},"encoding":{"x":{"field":"x","type":"quantitative"},"y":{"field":"m","type":"quantitative"}}},
{"data":{"values":[{"x":-3.69},{"x":-2.57}]},"mark":{"type":"rule","color":"#222","strokeWidth":1.2,"strokeDash":[2,2]},"encoding":{"x":{"field":"x","type":"quantitative"}}},
{"data":{"values":[{"x":-7.316,"y":13.78,"t":"26"},{"x":-6.94,"y":13.78,"t":"26"},{"x":-6.57,"y":13.78,"t":"26"},{"x":-6.2,"y":13.78,"t":"25"},{"x":-5.82,"y":13.78,"t":"25"},{"x":-5.45,"y":13.78,"t":"23"},{"x":-5.08,"y":13.78,"t":"21"},{"x":-4.7,"y":13.78,"t":"18"},{"x":-4.33,"y":13.78,"t":"14"},{"x":-3.96,"y":13.78,"t":"10"},{"x":-3.69,"y":13.78,"t":"8"},{"x":-3.41,"y":13.78,"t":"8"},{"x":-3.13,"y":13.78,"t":"8"},{"x":-2.86,"y":13.78,"t":"7"},{"x":-2.58,"y":13.78,"t":"4"},{"x":-2.29,"y":13.78,"t":"1"}]},"mark":{"type":"text","fontSize":8,"color":"#333"},"encoding":{"x":{"field":"x","type":"quantitative"},"y":{"field":"y","type":"quantitative"},"text":{"field":"t"}}},
{"data":{"values":[{"x":-8.23,"y":13.85,"t":"C"}]},"mark":{"type":"text","fontWeight":"bold","fontSize":12,"align":"left","color":"#111"},"encoding":{"x":{"field":"x","type":"quantitative"},"y":{"field":"y","type":"quantitative"},"text":{"field":"t"}}}
]},
{"width":314.7,"height":257,"view":{"stroke":"#333","strokeWidth":1.5},"resolve":{"axis":{"x":"independent"}},"layer":[
{"data":{"name":"paths"},"mark":{"type":"line","interpolate":"monotone","strokeWidth":1.2},"encoding":{"x":{"field":"x","type":"quantitative","scale":{"domain":[-7.618,-1.896],"nice":false,"zero":false},"axis":{"values":[-7,-6,-5,-4,-3,-2],"format":"d","title":"log(Lambda)","titleFontSize":12.5,"labelFontSize":8,"tickSize":4,"labelPadding":2,"titlePadding":9}},"y":{"field":"y","type":"quantitative","scale":{"domain":[-0.596,1.049],"nice":false,"zero":false},"axis":{"values":[-0.5,0,0.5,1],"format":".1f","title":"Coefficients","titleFontSize":12,"labelFontSize":8,"labelAngle":-90,"labelAlign":"center","labelBaseline":"bottom","tickSize":4,"labelPadding":4,"titlePadding":14}},"detail":{"field":"s"},"color":{"field":"c","type":"nominal","legend":null,"scale":{"domain":["k","r","g","b","c","m"],"range":["#222222","#e0262a","#3cb83c","#2a2ad0","#33e6e6","#e040e0"]}}}},
{"data":{"values":[{"x":-3.69},{"x":-2.57}]},"mark":{"type":"rule","color":"#222","strokeWidth":1.2,"strokeDash":[2,2]},"encoding":{"x":{"field":"x","type":"quantitative","axis":{"orient":"top","title":null,"values":[-7,-6,-5,-4,-3,-2],"labelExpr":"['26','25','21','11','5','0'][datum.value+7]","labelFontSize":8,"tickSize":4,"labelPadding":5}}}},
{"data":{"values":[{"x":-8.31,"y":1.197,"t":"D"}]},"mark":{"type":"text","fontWeight":"bold","fontSize":12,"align":"left","color":"#111"},"encoding":{"x":{"field":"x","type":"quantitative","axis":null},"y":{"field":"y","type":"quantitative"},"text":{"field":"t"}}}
]}
],"spacing":65,"bounds":"flush"}
],"spacing":17}
